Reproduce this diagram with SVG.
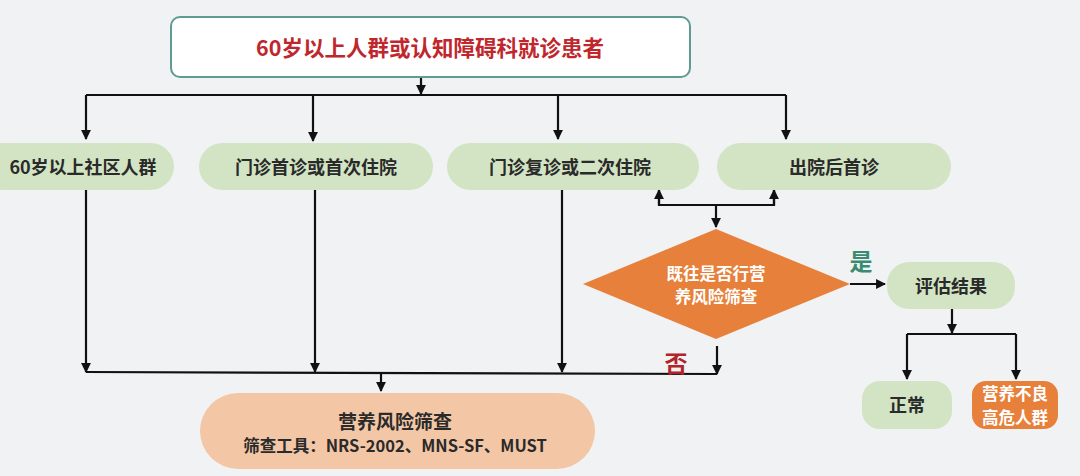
<svg xmlns="http://www.w3.org/2000/svg" width="1080" height="476" viewBox="0 0 1080 476">
<defs>
<marker id="ah" viewBox="0 0 10 10" refX="9" refY="5" markerWidth="4.5" markerHeight="4.5" orient="auto" markerUnits="strokeWidth">
<path d="M0,0 L10,5 L0,10 z" fill="#111"/>
</marker>
<style>
.ln{fill:none;stroke:#111;stroke-width:2.2}
.ar{fill:none;stroke:#111;stroke-width:2.2;marker-end:url(#ah)}
.t{font-family:"Noto Sans CJK SC","Liberation Sans",sans-serif;font-weight:bold;text-anchor:middle}
.g{fill:#d2e4c3}
.dk{fill:#2a2a2a}
.w{fill:#ffffff}
</style>
</defs>
<rect width="1080" height="476" fill="#f1f2f4"/>

<g id="connectors">
<line class="ar" x1="421" y1="77" x2="421" y2="94"/>
<polyline class="ln" points="86,95 786,95"/>
<line class="ar" x1="86" y1="95" x2="86" y2="139"/>
<line class="ar" x1="313" y1="95" x2="313" y2="141"/>
<line class="ar" x1="558" y1="95" x2="558" y2="139"/>
<line class="ar" x1="786" y1="95" x2="786" y2="139"/>
<line class="ar" x1="86" y1="190" x2="86" y2="372"/>
<line class="ar" x1="315" y1="190" x2="315" y2="372"/>
<line class="ar" x1="562" y1="190" x2="562" y2="372"/>
<line class="ar" x1="717" y1="346" x2="717" y2="374"/>
<polyline class="ln" points="86,372 717,374"/>
<line class="ar" x1="381" y1="373" x2="381" y2="391"/>
<polyline class="ln" points="659,190 659,205 774,205 774,190"/>
<line class="ar" x1="659" y1="205" x2="659" y2="190"/>
<line class="ar" x1="774" y1="205" x2="774" y2="190"/>
<line class="ar" x1="716" y1="205" x2="716" y2="227"/>
<line class="ar" x1="850" y1="284" x2="885" y2="284"/>
<line class="ar" x1="952" y1="309" x2="952" y2="333"/>
<polyline class="ln" points="907,334 1016,334"/>
<line class="ar" x1="907" y1="334" x2="907" y2="379"/>
<line class="ar" x1="1016" y1="334" x2="1016" y2="379"/>
<text class="t" x="861" y="270" font-size="23" fill="#3b8a72">是</text>
<text class="t" x="676" y="372" font-size="23" fill="#b2232a">否</text>
</g>

<g id="top">
<rect x="171" y="17" width="519" height="60" rx="9" fill="#ffffff" stroke="#5f9a93" stroke-width="2"/>
<text class="t" x="430" y="56" font-size="21.5" fill="#c0272d">60岁以上人群或认知障碍科就诊患者</text>
</g>

<g id="p1">
<rect class="g" x="-20" y="143" width="194" height="47" rx="23.5"/>
<text class="t dk" x="83" y="174" font-size="18">60岁以上社区人群</text>
</g>
<g id="p2">
<rect class="g" x="199" y="143" width="234" height="47" rx="23.5"/>
<text class="t dk" x="316" y="174" font-size="18">门诊首诊或首次住院</text>
</g>
<g id="p3">
<rect class="g" x="447" y="143" width="252" height="47" rx="23.5"/>
<text class="t dk" x="570" y="174" font-size="18">门诊复诊或二次住院</text>
</g>
<g id="p4">
<rect class="g" x="717" y="143" width="234" height="47" rx="23.5"/>
<text class="t dk" x="834" y="174" font-size="18">出院后首诊</text>
</g>

<g id="diamond">
<polygon points="716,229 850,284 716,339 583,284" fill="#e6803a"/>
<text class="t w" x="716" y="280" font-size="16.5">既往是否行营</text>
<text class="t w" x="716" y="303" font-size="16.5">养风险筛查</text>
</g>

<g id="screen">
<rect x="200" y="393" width="395" height="76" rx="38" fill="#f3c6a6"/>
<text class="t dk" x="395" y="429" font-size="19">营养风险筛查</text>
<text class="t dk" x="395" y="452" font-size="16.5">筛查工具：NRS-2002、MNS-SF、MUST</text>
</g>

<g id="eval">
<rect class="g" x="887" y="262" width="128" height="47" rx="22"/>
<text class="t dk" x="951" y="293" font-size="18">评估结果</text>
</g>
<g id="normal">
<rect class="g" x="862" y="381" width="90" height="48" rx="18"/>
<text class="t dk" x="907" y="412" font-size="18">正常</text>
</g>
<g id="risk">
<rect x="972" y="381" width="86" height="48" rx="14" fill="#e6803a"/>
<text class="t w" x="1015" y="400" font-size="16.5">营养不良</text>
<text class="t w" x="1015" y="423.5" font-size="16.5">高危人群</text>
</g>
</svg>
